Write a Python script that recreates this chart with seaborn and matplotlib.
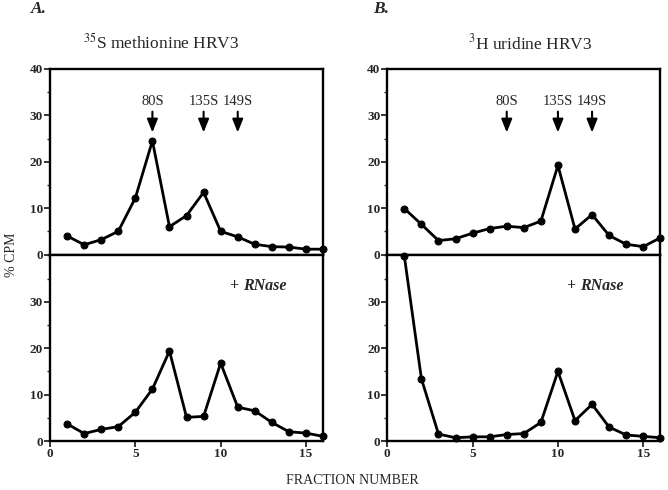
import matplotlib
matplotlib.use("Agg")
import matplotlib.pyplot as plt
import seaborn as sns
import pandas as pd
from matplotlib.ticker import MultipleLocator

fractions = list(range(1, 17))

# % CPM
met_untreated = [4.0, 2.1, 3.2, 5.0, 12.2, 24.5, 6.0, 8.4, 13.4, 5.0, 3.8, 2.2, 1.7, 1.6, 1.15, 1.15]
met_rnase = [3.7, 1.6, 2.5, 3.1, 6.2, 11.2, 19.4, 5.1, 5.3, 16.8, 7.3, 6.5, 4.0, 2.0, 1.7, 1.0]
uri_untreated = [9.9, 6.5, 3.0, 3.4, 4.6, 5.6, 6.1, 5.8, 7.2, 19.2, 5.5, 8.6, 4.1, 2.2, 1.7, 3.6]
uri_rnase = [39.8, 13.4, 1.5, 0.7, 0.9, 0.9, 1.4, 1.6, 4.0, 15.0, 4.4, 7.9, 3.0, 1.3, 1.0, 0.7]

marker_labels = ["80S", "135S", "149S"]
met_marker_pos = [6, 9, 11]
uri_marker_pos = [7, 10, 12]

sns.set_style("ticks")
plt.rcParams["font.family"] = ["Liberation Serif", "DejaVu Serif"]
plt.rcParams["mathtext.fontset"] = "stix"

fig = plt.figure(figsize=(6.68, 4.90), dpi=100)

W = 0.4087
left_x = [0.0749, 0.5798]
top_y, bot_y, H = 0.4806, 0.100, 0.3786
TICK_FS = 9.5


def style_axes(ax, bottom):
    ax.set_xlim(0, 16)
    ax.set_ylim(0, 40)
    ax.yaxis.set_major_locator(MultipleLocator(10))
    ax.yaxis.set_minor_locator(MultipleLocator(5))
    ax.xaxis.set_major_locator(MultipleLocator(5))
    for s in ax.spines.values():
        s.set_linewidth(1.7)
        s.set_color("black")
    ax.tick_params(axis="y", which="major", length=4, width=1.3, direction="out", pad=1)
    ax.tick_params(axis="y", which="minor", length=2, width=1.0, direction="out")
    ax.tick_params(axis="x", which="major", length=4, width=1.3, direction="out", pad=1)
    ax.set_xlabel("")
    ax.set_ylabel("")
    if bottom:
        ax.set_yticks([0, 10, 20, 30])
        ax.set_yticklabels(["0", "10", "20", "30"], fontweight="bold", fontsize=TICK_FS)
        ax.set_xticks([0, 5, 10, 15])
        ax.set_xticklabels(["0", "5", "10", "15"], fontweight="bold", fontsize=TICK_FS)
    else:
        ax.set_yticks([0, 10, 20, 30, 40])
        ax.set_yticklabels(["0", "10", "20", "30", "40"], fontweight="bold", fontsize=TICK_FS)
        ax.tick_params(axis="x", which="both", bottom=False, labelbottom=False)


def draw(ax, values):
    df = pd.DataFrame({"fraction": fractions, "cpm": values})
    sns.lineplot(data=df, x="fraction", y="cpm", ax=ax, color="black", lw=2.0,
                 marker="o", markersize=5, markeredgecolor="black", clip_on=False)


panels = [
    (met_untreated, met_rnase, met_marker_pos, r"$^{35}$S methionine HRV3", "A.", 0.124, 0.047),
    (uri_untreated, uri_rnase, uri_marker_pos, r"$^{3}$H uridine HRV3", "B.", 0.700, 0.558),
]

for i, (top_vals, bot_vals, mpos, title, letter, tx, lx) in enumerate(panels):
    ax_top = fig.add_axes([left_x[i], top_y, W, H])
    ax_bot = fig.add_axes([left_x[i], bot_y, W, H])
    draw(ax_top, top_vals)
    draw(ax_bot, bot_vals)
    style_axes(ax_top, False)
    style_axes(ax_bot, True)
    for lab, xp in zip(marker_labels, mpos):
        ax_top.annotate("", xy=(xp, 26.3), xytext=(xp, 30.8),
                        arrowprops=dict(arrowstyle="-|>,head_width=0.32,head_length=0.8",
                                        color="black", lw=1.5, shrinkA=0, shrinkB=0))
        ax_top.text(xp, 31.5, lab, ha="center", va="bottom", fontsize=10.5)
    ax_bot.text(11.3, 33.5, "+ ", ha="right", va="center", fontsize=11.5, fontweight="bold")
    ax_bot.text(11.3, 33.5, "RNase", ha="left", va="center", fontsize=11.5,
                fontstyle="italic", fontweight="bold")
    fig.text(tx, 0.912, title, ha="left", va="center", fontsize=12.5)
    fig.text(lx, 0.981, letter, ha="left", va="center", fontsize=12.5,
             fontweight="bold", fontstyle="italic")

fig.text(0.017, 0.48, "% CPM", rotation=90, ha="center", va="center", fontsize=10)
fig.text(0.527, 0.02, "FRACTION NUMBER", ha="center", va="center", fontsize=10)

fig.savefig("out.png", dpi=100)
